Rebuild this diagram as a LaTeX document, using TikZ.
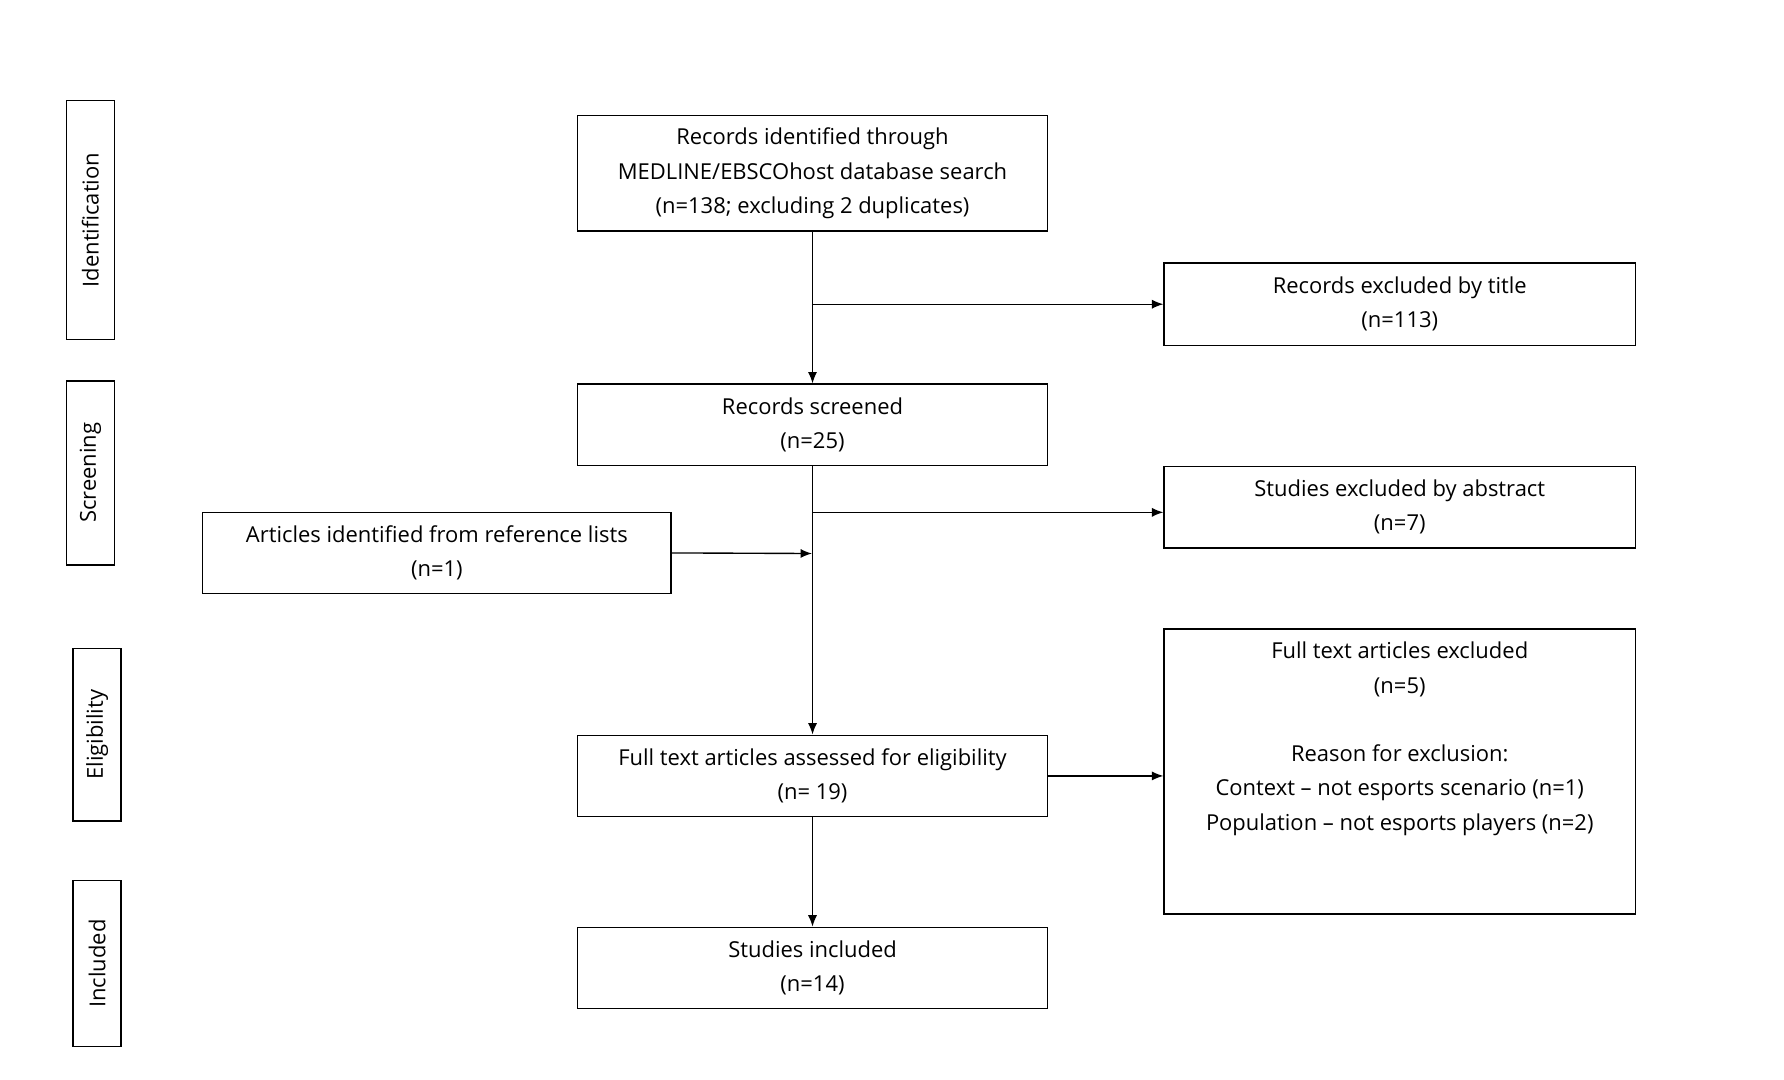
\documentclass[tikz,border=0pt]{standalone}
\usepackage{fontspec}
\setmainfont{Open Sans}
\usetikzlibrary{arrows.meta}
\begin{document}
\begin{tikzpicture}[x=0.5pt,y=-0.5pt,
  box/.style={draw,line width=0.7pt,inner sep=0pt,font=\fontsize{9.6}{15}\selectfont,align=center},
  lab/.style={draw,line width=0.7pt,inner sep=0pt,font=\fontsize{9.6}{12}\selectfont,rotate=90},
  arr/.style={line width=0.6pt,-{Latex[length=5pt,width=4pt]}}]
\useasboundingbox (0,0) rectangle (1560,944);
\node[box,minimum width=205.5pt,minimum height=50.5pt] (A) at (710.5,151.5) {Records identified through\\MEDLINE/EBSCOhost database search\\(n=138; excluding 2 duplicates)};
\node[box,minimum width=206pt,minimum height=36pt] (B) at (1224,266) {Records excluded by title\\(n=113)};
\node[box,minimum width=205.5pt,minimum height=35.5pt] (C) at (710.5,371.5) {Records screened\\(n=25)};
\node[box,minimum width=206pt,minimum height=35.5pt] (D) at (1224,443.5) {Studies excluded by abstract\\(n=7)};
\node[box,minimum width=205pt,minimum height=35.5pt] (E) at (382,483.5) {Articles identified from reference lists\\(n=1)};
\node[box,minimum width=205.5pt,minimum height=35.5pt] (F) at (710.5,678.5) {Full text articles assessed for eligibility\\(n= 19)};
\node[box,minimum width=206pt,minimum height=124.5pt] (G) at (1224,674.5) {};
\node[font=\fontsize{9.6}{15}\selectfont,align=center,anchor=north,inner sep=0pt] (Gt) at (1224,561) {Full text articles excluded\\(n=5)\\[15pt]Reason for exclusion:\\Context -- not esports scenario (n=1)\\Population -- not esports players (n=2)};
\node[box,minimum width=205.5pt,minimum height=35.5pt] (H) at (710.5,846.5) {Studies included\\(n=14)};
\node[lab,minimum width=104.5pt,minimum height=21pt] (L1) at (79,192.5) {Identification};
\node[lab,minimum width=80.5pt,minimum height=21pt] (L2) at (79,413.5) {Screening};
\node[lab,minimum width=75.5pt,minimum height=21pt] (L3) at (85,642.5) {Eligibility};
\node[lab,minimum width=72.5pt,minimum height=21pt] (L4) at (85,842.5) {Included};
\coordinate (j1) at (710,266);
\coordinate (j2) at (710,448);
\coordinate (j3) at (710,484);
\draw[arr] (A) -- (C);
\draw[arr] (C) -- (F);
\draw[arr] (F) -- (H);
\draw[arr] (j1) -- (B.west);
\draw[arr] (j2) -- (D.west|-j2);
\draw[arr] (E.east) -- (j3);
\draw[arr] (F.east) -- (G.west|-F.east);
\end{tikzpicture}
\end{document}
